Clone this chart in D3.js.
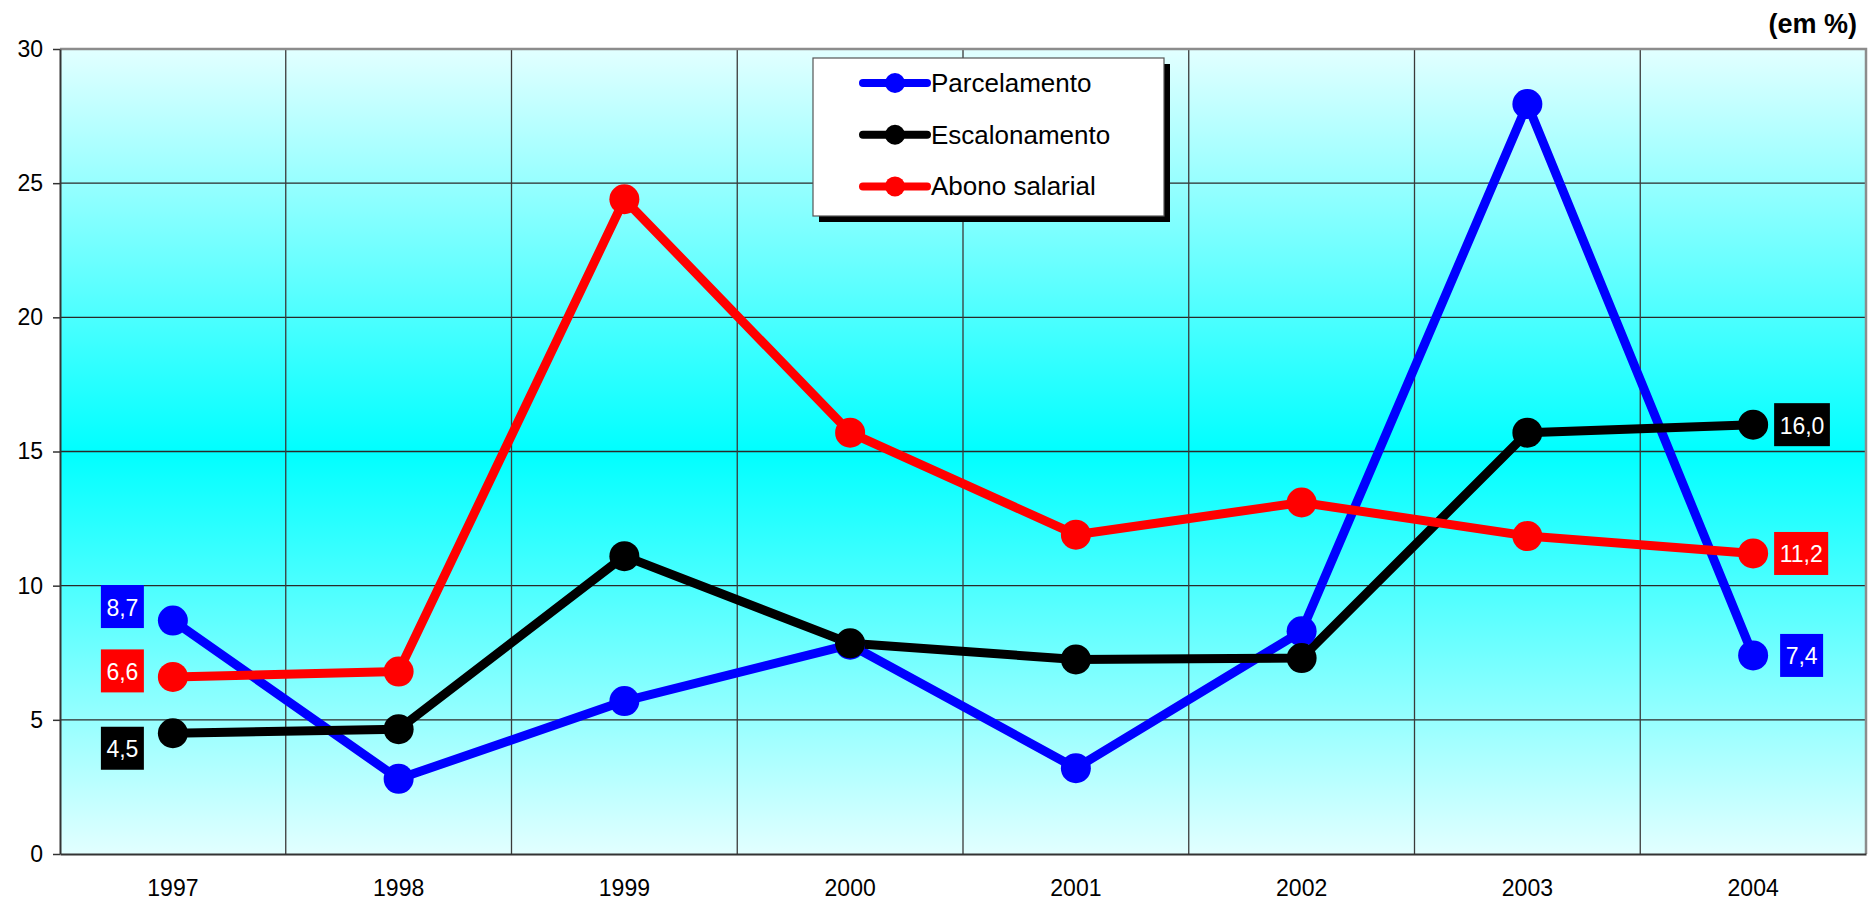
<!DOCTYPE html>
<html>
<head>
<meta charset="utf-8">
<script src="https://cdn.jsdelivr.net/npm/d3@7"></script>
<style>
  body { margin: 0; background: #fff; }
  svg { display: block; font-family: "Liberation Sans", Arial, sans-serif; }
</style>
</head>
<body>
<svg id="chart" width="1872" height="901"></svg>
<script>
"use strict"

// data
const years = ["1997", "1998", "1999", "2000", "2001", "2002", "2003", "2004"]
const parcelamento = [8.7, 2.8, 5.7, 7.8, 3.2, 8.3, 27.95, 7.4]
const escalonamento = [4.5, 4.65, 11.1, 7.85, 7.25, 7.3, 15.7, 16.0]
const abonoSalarial = [6.6, 6.8, 24.4, 15.7, 11.9, 13.1, 11.85, 11.2]
const yTicks = [0, 5, 10, 15, 20, 25, 30]
const seriesNames = ["Parcelamento", "Escalonamento", "Abono salarial"]
const seriesColors = ["#0000ff", "#000000", "#ff0000"]

const series = [parcelamento, escalonamento, abonoSalarial].map((values, i) => ({
    name: seriesNames[i], color: seriesColors[i], values: values
}))

const svg = d3.select("#chart")
const margins = {top: 49, right: 6, bottom: 47, left: 60}
const width = 1872 - margins.left - margins.right
const height = 901 - margins.top - margins.bottom

const x = d3.scaleBand().domain(years).range([0, width])
const y = d3.scaleLinear().domain([0, 30]).range([height, 0])

// background gradient: pale at top and bottom, cyan in the middle
const defs = svg.append("defs")
const grad = defs.append("linearGradient").attr("id", "bg").attr("x1", 0).attr("y1", 0).attr("x2", 0).attr("y2", 1)
grad.append("stop").attr("offset", "0%").attr("stop-color", "#e2ffff")
grad.append("stop").attr("offset", "50%").attr("stop-color", "#00ffff")
grad.append("stop").attr("offset", "100%").attr("stop-color", "#e2ffff")

const g = svg.append("g").attr("transform", `translate(${margins.left},${margins.top})`)

g.append("rect").attr("width", width).attr("height", height).attr("fill", "url(#bg)")

// horizontal gridlines
g.selectAll(".hgrid").data(yTicks.filter(t => t > 0 && t < 30)).enter()
    .append("line")
    .attr("x1", 0).attr("x2", width)
    .attr("y1", d => y(d)).attr("y2", d => y(d))
    .attr("stroke", "#2a2a2a").attr("stroke-width", 1.3)

// vertical gridlines at category boundaries
g.selectAll(".vgrid").data(years.slice(1)).enter()
    .append("line")
    .attr("x1", d => x(d)).attr("x2", d => x(d))
    .attr("y1", 0).attr("y2", height)
    .attr("stroke", "#3a3a3a").attr("stroke-width", 1.3)

// top and right frame
g.append("path")
    .attr("d", `M0,0H${width}V${height}`)
    .attr("fill", "none").attr("stroke", "#8c8c8c").attr("stroke-width", 2.5)

// y axis
const yAxis = g.append("g")
    .call(d3.axisLeft(y).tickValues(yTicks).tickSize(7).tickPadding(10).tickSizeOuter(0))
yAxis.select(".domain").attr("stroke", "#333").attr("stroke-width", 2)
yAxis.selectAll(".tick line").attr("stroke", "#333").attr("stroke-width", 1.5)
yAxis.selectAll("text").attr("font-size", 23).attr("fill", "#000").attr("font-family", "Liberation Sans, Arial, sans-serif")

// x axis
const xAxis = g.append("g").attr("transform", `translate(0,${height})`)
    .call(d3.axisBottom(x).tickSize(0).tickPadding(26).tickSizeOuter(0))
xAxis.select(".domain").attr("stroke", "#333").attr("stroke-width", 2)
xAxis.selectAll("text").attr("font-size", 23).attr("fill", "#000").attr("font-family", "Liberation Sans, Arial, sans-serif")

// lines and markers
const line = d3.line().x((d, i) => x(years[i]) + x.bandwidth() / 2).y(d => y(d))

series.forEach(s => {
    g.append("path")
        .datum(s.values)
        .attr("d", line)
        .attr("fill", "none")
        .attr("stroke", s.color)
        .attr("stroke-width", 9)
        .attr("stroke-linejoin", "round")
})
series.forEach(s => {
    g.selectAll(null).data(s.values).enter()
        .append("circle")
        .attr("cx", (d, i) => x(years[i]) + x.bandwidth() / 2)
        .attr("cy", d => y(d))
        .attr("r", 15)
        .attr("fill", s.color)
})

// value labels at first and last point
const fmt = d => d3.format(".1f")(d).replace(".", ",")
const labelShift = {
    "Parcelamento": [-14, 0],
    "Escalonamento": [15, 0],
    "Abono salarial": [-6, 0]
}
series.forEach(s => {
    const ends = [0, s.values.length - 1]
    ends.forEach((idx, k) => {
        const v = s.values[idx]
        const cx = x(years[idx]) + x.bandwidth() / 2
        const cy = y(v) + labelShift[s.name][k]
        const lg = g.append("g")
        const txt = lg.append("text")
            .attr("font-size", 23).attr("fill", "#fff")
            .attr("dominant-baseline", "central")
            .text(fmt(v))
        const w = txt.node().getComputedTextLength()
        const bw = w + 11, bh = 43
        const bx = k === 0 ? cx - 29 - bw : cx + (v < 10 ? 27 : 21)
        lg.insert("rect", "text")
            .attr("x", bx).attr("y", cy - bh / 2)
            .attr("width", bw).attr("height", bh)
            .attr("fill", s.color)
        txt.attr("x", bx + 5.5).attr("y", cy + 1)
    })
})

// legend
const legend = svg.append("g").attr("transform", "translate(813,58)")
legend.append("rect").attr("x", 6).attr("y", 6).attr("width", 351).attr("height", 158).attr("fill", "#000")
legend.append("rect").attr("width", 351).attr("height", 158).attr("fill", "#fff").attr("stroke", "#555").attr("stroke-width", 1.2)
series.forEach((s, i) => {
    const ly = 25 + i * 51.7
    legend.append("line").attr("x1", 50).attr("x2", 114).attr("y1", ly).attr("y2", ly)
        .attr("stroke", s.color).attr("stroke-width", 8).attr("stroke-linecap", "round")
    legend.append("circle").attr("cx", 82).attr("cy", ly).attr("r", 10).attr("fill", s.color)
    legend.append("text").attr("x", 118).attr("y", ly + 9)
        .attr("font-size", 26).attr("fill", "#000").text(s.name)
})

// unit note
svg.append("text").attr("x", 1857).attr("y", 33).attr("text-anchor", "end")
    .attr("font-size", 27).attr("font-weight", "bold").attr("fill", "#000").text("(em %)")
</script>
</body>
</html>
